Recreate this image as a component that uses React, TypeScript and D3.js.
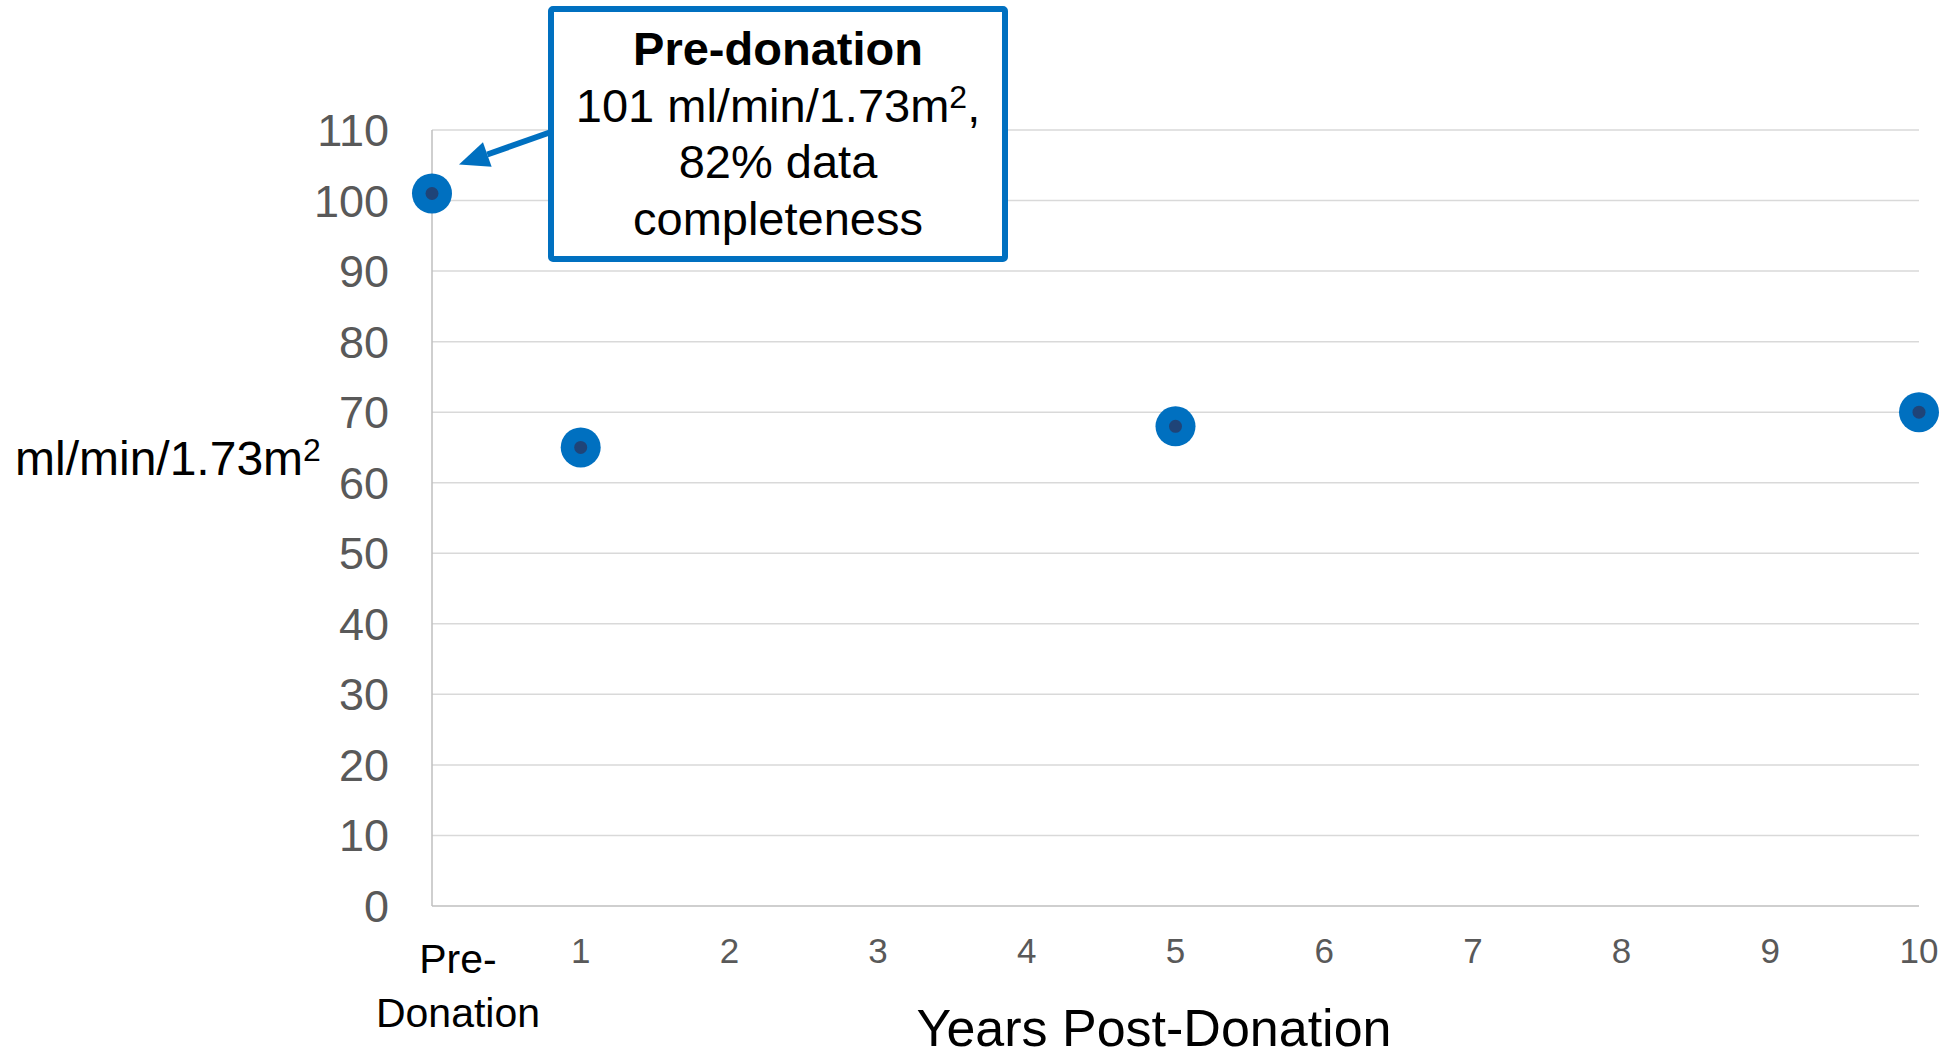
import * as d3 from 'd3';
import React, { useEffect, useRef } from 'react';

// Datos
const xCategories = ['Pre-Donation', '1', '2', '3', '4', '5', '6', '7', '8', '9', '10'];
const pointYears = [0, 1, 5, 10];
const pointValues = [101, 65, 68, 70];
const yTicks = [0, 10, 20, 30, 40, 50, 60, 70, 80, 90, 100, 110];
const annotationLines = ['Pre-donation', '101 ml/min/1.73m', '82% data', 'completeness'];

const FONT = '"Liberation Sans", Arial, Helvetica, sans-serif';
const BLUE = '#0070C0';
const DARK = '#1F4478';

const App: React.FC = () => {
  const svgRef = useRef<SVGSVGElement | null>(null);

  useEffect(() => {
    if (!svgRef.current) return;
    const svg = d3.select(svgRef.current);
    svg.selectAll('*').remove();

    const left = 432;
    const right = 1919;
    const top = 130;
    const bottom = 906;

    const x = d3.scaleLinear().domain([0, 10]).range([left, right]);
    const y = d3.scaleLinear().domain([0, 110]).range([bottom, top]);

    // Rejilla
    svg
      .append('g')
      .selectAll('line')
      .data(yTicks.filter((t) => t > 0))
      .enter()
      .append('line')
      .attr('x1', left)
      .attr('x2', right)
      .attr('y1', (d) => y(d))
      .attr('y2', (d) => y(d))
      .attr('stroke', '#D9D9D9')
      .attr('stroke-width', 1.5);

    // Ejes
    svg
      .append('line')
      .attr('x1', left)
      .attr('x2', left)
      .attr('y1', y(110))
      .attr('y2', y(0))
      .attr('stroke', '#BFBFBF')
      .attr('stroke-width', 1.5);
    svg
      .append('line')
      .attr('x1', left)
      .attr('x2', right)
      .attr('y1', y(0))
      .attr('y2', y(0))
      .attr('stroke', '#BFBFBF')
      .attr('stroke-width', 1.5);

    // Etiquetas eje Y
    svg
      .append('g')
      .selectAll('text')
      .data(yTicks)
      .enter()
      .append('text')
      .attr('x', 389)
      .attr('y', (d) => y(d) + 16)
      .attr('text-anchor', 'end')
      .attr('font-family', FONT)
      .attr('font-size', 45)
      .attr('fill', '#595959')
      .text((d) => d);

    // Etiquetas eje X
    xCategories.forEach((c, i) => {
      if (i === 0) {
        const t = svg
          .append('text')
          .attr('text-anchor', 'middle')
          .attr('font-family', FONT)
          .attr('font-size', 41)
          .attr('fill', '#000');
        t.append('tspan').attr('x', x(i) + 26).attr('y', 973).text('Pre-');
        t.append('tspan').attr('x', x(i) + 26).attr('y', 1027).text('Donation');
      } else {
        svg
          .append('text')
          .attr('x', x(i))
          .attr('y', 963)
          .attr('text-anchor', 'middle')
          .attr('font-family', FONT)
          .attr('font-size', 35)
          .attr('fill', '#595959')
          .text(c);
      }
    });

    // Títulos de ejes
    svg
      .append('text')
      .attr('x', 1154)
      .attr('y', 1046)
      .attr('text-anchor', 'middle')
      .attr('font-family', FONT)
      .attr('font-size', 52)
      .attr('fill', '#000')
      .text('Years Post-Donation');

    const yTitle = svg
      .append('text')
      .attr('x', 15)
      .attr('y', 475)
      .attr('font-family', FONT)
      .attr('font-size', 48)
      .attr('fill', '#000');
    yTitle.append('tspan').text('ml/min/1.73m');
    yTitle.append('tspan').attr('font-size', 32).attr('dy', -14).text('2');

    // Puntos
    const pts = pointYears.map((yr, i) => ({ yr, v: pointValues[i] }));
    svg
      .append('g')
      .selectAll('circle')
      .data(pts)
      .enter()
      .append('circle')
      .attr('cx', (d) => x(d.yr))
      .attr('cy', (d) => y(d.v))
      .attr('r', 20)
      .attr('fill', BLUE);
    svg
      .append('g')
      .selectAll('circle')
      .data(pts)
      .enter()
      .append('circle')
      .attr('cx', (d) => x(d.yr))
      .attr('cy', (d) => y(d.v))
      .attr('r', 6.5)
      .attr('fill', DARK);

    // Flecha de la anotación
    const tipX = x(0) + 27;
    const tipY = y(pointValues[0]) - 29;
    const startX = 551;
    const startY = 132;
    const ang = Math.atan2(tipY - startY, tipX - startX);
    const headLen = 30;
    const headW = 13;
    const bx = tipX - headLen * Math.cos(ang);
    const by = tipY - headLen * Math.sin(ang);
    svg
      .append('line')
      .attr('x1', startX)
      .attr('y1', startY)
      .attr('x2', bx)
      .attr('y2', by)
      .attr('stroke', BLUE)
      .attr('stroke-width', 6);
    svg
      .append('path')
      .attr(
        'd',
        `M${tipX},${tipY}L${bx + headW * Math.sin(ang)},${by - headW * Math.cos(ang)}L${bx - headW * Math.sin(ang)},${by + headW * Math.cos(ang)}Z`
      )
      .attr('fill', BLUE);

    // Caja de la anotación
    svg
      .append('rect')
      .attr('x', 551)
      .attr('y', 9)
      .attr('width', 454)
      .attr('height', 250)
      .attr('rx', 2)
      .attr('fill', '#fff')
      .attr('stroke', BLUE)
      .attr('stroke-width', 6);

    const baselines = [65, 122, 178, 235];
    annotationLines.forEach((line, i) => {
      const t = svg
        .append('text')
        .attr('x', 778)
        .attr('y', baselines[i])
        .attr('text-anchor', 'middle')
        .attr('font-family', FONT)
        .attr('font-size', 47)
        .attr('font-weight', i === 0 ? 'bold' : 'normal')
        .attr('fill', '#000');
      if (i === 1) {
        t.append('tspan').text(line);
        t.append('tspan').attr('font-size', 32).attr('dy', -14).text('2');
        t.append('tspan').attr('dy', 14).text(',');
      } else {
        t.text(line);
      }
    });
  }, []);

  return (
    <svg
      ref={svgRef}
      width={1948}
      height={1056}
      style={{ position: 'absolute', left: 0, top: 0, background: '#fff' }}
    />
  );
};

export default App;
